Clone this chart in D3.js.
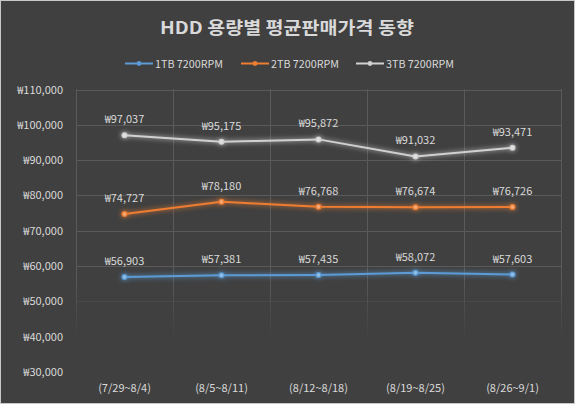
<!DOCTYPE html>
<html><head><meta charset="utf-8">
<script src="https://cdn.jsdelivr.net/npm/d3@7"></script>
<style>html,body{margin:0;padding:0;background:#404040;}svg{display:block;}</style>
</head><body>
<script>
const categories = ["(7/29~8/4)","(8/5~8/11)","(8/12~8/18)","(8/19~8/25)","(8/26~9/1)"];
const seriesNames = ["1TB 7200RPM","2TB 7200RPM","3TB 7200RPM"];
const tb1 = [56903,57381,57435,58072,57603];
const tb2 = [74727,78180,76768,76674,76726];
const tb3 = [97037,95175,95872,91032,93471];
const yTicks = [30000,40000,50000,60000,70000,80000,90000,100000,110000];
const colors = ["#5B9BD5","#ED7D31","#D0D0D0"];
const title = "HDD 용량별 평균판매가격 동향";

const W=575,H=404;
const svg=d3.select("body").append("svg").attr("width",W).attr("height",H);
const font="'Malgun Gothic','Noto Sans CJK KR','Noto Sans',sans-serif";
const defs=svg.append("defs");
const f=defs.append("filter").attr("id","glow").attr("x","-20%").attr("y","-200%").attr("width","140%").attr("height","500%");
f.append("feGaussianBlur").attr("in","SourceGraphic").attr("stdDeviation",2.5).attr("result","b");
const m=f.append("feMerge");m.append("feMergeNode").attr("in","b");m.append("feMergeNode").attr("in","SourceGraphic");
const g=defs.append("linearGradient").attr("id","vfade").attr("gradientUnits","userSpaceOnUse").attr("x1",0).attr("x2",0).attr("y1",89).attr("y2",340);
g.append("stop").attr("offset","0.75").attr("stop-color","#5a5a5a");
g.append("stop").attr("offset","1").attr("stop-color","#404040");

svg.append("rect").attr("x",0.5).attr("y",0.5).attr("width",W-1).attr("height",H-1).attr("fill","#404040").attr("stroke","#c8c8c8");

const x=d3.scaleBand().domain(categories).range([76,561]);
const y=d3.scaleLinear().domain([30000,110000]).range([372,89.5]);
const fmt=v=>"₩"+d3.format(",")(v);

// grid
svg.append("g").selectAll("line").data(yTicks.filter(t=>t>=50000)).join("line")
 .attr("x1",76).attr("x2",561).attr("y1",d=>Math.round(y(d))+0.5).attr("y2",d=>Math.round(y(d))+0.5)
 .attr("stroke",d=>d===50000?"#4a4a4a":"#5a5a5a").attr("stroke-width",1);
const vx=categories.map(c=>x(c)).concat([561]);
svg.append("g").selectAll("line").data(vx).join("line")
 .attr("x1",d=>Math.round(d)+0.5).attr("x2",d=>Math.round(d)+0.5).attr("y1",89).attr("y2",340)
 .attr("stroke","url(#vfade)").attr("stroke-width",1);

// y axis labels
const yAxis=d3.axisLeft(y).tickValues(yTicks).tickFormat(fmt).tickSize(0).tickPadding(0);
const ya=svg.append("g").attr("transform","translate(63,0)").call(yAxis);
ya.select(".domain").remove();
ya.selectAll("text").attr("fill","#d9d9d9").attr("font-family",font).attr("font-size",11);

// x axis labels
const xAxis=d3.axisBottom(x).tickSize(0).tickPadding(0);
const xa=svg.append("g").attr("transform","translate(0,384)").call(xAxis);
xa.select(".domain").remove();
xa.selectAll("text").attr("fill","#d9d9d9").attr("font-family",font).attr("font-size",11);

// title
svg.append("text").attr("x",287).attr("y",34).attr("text-anchor","middle").attr("fill","#d9d9d9")
 .attr("font-family",font).attr("font-weight","bold").attr("font-size",17.5)
 .attr("textLength",254).attr("lengthAdjust","spacingAndGlyphs").text(title);

// legend
const legX=[125,241,356];
const leg=svg.append("g");
seriesNames.forEach((n,i)=>{
  const lg=leg.append("g").attr("transform",`translate(${legX[i]},63.5)`);
  lg.append("line").attr("x1",0).attr("x2",28).attr("y1",0).attr("y2",0).attr("stroke",colors[i]).attr("stroke-width",2);
  lg.append("circle").attr("cx",14).attr("cy",0).attr("r",2.4).attr("fill",colors[i]);
  lg.append("text").attr("x",30).attr("y",4).attr("fill","#d9d9d9").attr("font-family",font).attr("font-size",11)
    .attr("textLength",68).attr("lengthAdjust","spacingAndGlyphs").text(n);
});

// series
const allSeries=[tb1,tb2,tb3];
const line=d3.line().x((d,i)=>x(categories[i])+x.bandwidth()/2).y(d=>y(d));
allSeries.forEach((s,i)=>{
  const sg=svg.append("g");
  const gl=sg.append("g").attr("filter","url(#glow)");
  gl.append("path").datum(s).attr("d",line).attr("fill","none").attr("stroke",colors[i]).attr("stroke-width",2);
  gl.selectAll("circle").data(s).join("circle")
    .attr("cx",(d,j)=>x(categories[j])+x.bandwidth()/2).attr("cy",d=>y(d)).attr("r",3).attr("fill",colors[i]);
  sg.selectAll("circle.c").data(s).join("circle").attr("class","c")
    .attr("cx",(d,j)=>x(categories[j])+x.bandwidth()/2).attr("cy",d=>y(d)).attr("r",1.8).attr("fill","#ffffff").attr("opacity",0.35);
  sg.selectAll("text").data(s).join("text")
    .attr("x",(d,j)=>x(categories[j])+x.bandwidth()/2).attr("y",d=>y(d)-12)
    .attr("text-anchor","middle").attr("fill","#d9d9d9").attr("font-family",font).attr("font-size",11)
    .text(fmt);
});
</script>
</body></html>
